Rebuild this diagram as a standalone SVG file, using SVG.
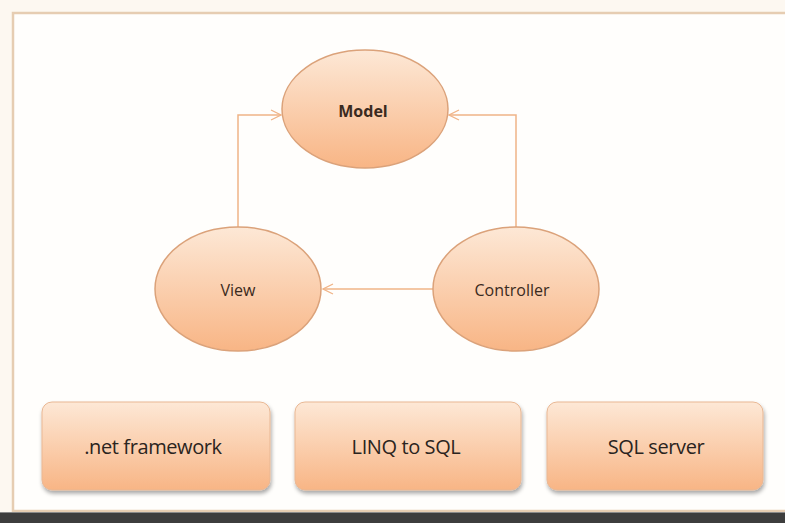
<svg xmlns="http://www.w3.org/2000/svg" width="785" height="523" viewBox="0 0 785 523">
<defs>
<linearGradient id="g" x1="0" y1="0" x2="0" y2="1">
<stop offset="0" stop-color="#fde8d6"/>
<stop offset="1" stop-color="#f8b585"/>
</linearGradient>
<filter id="sh" x="-10%" y="-10%" width="125%" height="130%">
<feGaussianBlur in="SourceAlpha" stdDeviation="2"/>
<feOffset dx="1" dy="3"/>
<feComponentTransfer><feFuncA type="linear" slope="0.35"/></feComponentTransfer>
<feMerge><feMergeNode/><feMergeNode in="SourceGraphic"/></feMerge>
</filter>
<marker id="arr" markerWidth="12" markerHeight="12" refX="11" refY="6" orient="auto" markerUnits="userSpaceOnUse">
<path d="M1,1 L11,6 L1,11" fill="none" stroke="#f0b487" stroke-width="1.3"/>
</marker>
<style>
.ell{fill:url(#g);stroke:#dba27a;stroke-width:1.5}
.box{fill:url(#g);stroke:#e9b793;stroke-width:1}
.con{fill:none;stroke:#f0b487;stroke-width:1.5}
.lbl{font-family:"Open Sans","Liberation Sans",sans-serif;font-size:16px;fill:#3a2a20;text-anchor:middle;dominant-baseline:central}
.blbl{font-family:"Open Sans","Liberation Sans",sans-serif;font-size:20px;fill:#2a2420;text-anchor:middle;dominant-baseline:central;letter-spacing:-0.4px}
</style>
</defs>
<rect x="0" y="0" width="785" height="523" fill="#fdf8f1"/>
<rect x="13" y="13" width="790" height="498" fill="#fffefc" stroke="#e6cdb2" stroke-width="2.5"/>
<rect x="0" y="512" width="785" height="11" fill="#3d3d3d"/>
<line x1="0" y1="512.5" x2="785" y2="512.5" stroke="#8a8a8a" stroke-width="1"/>
<g id="connectors">
<polyline class="con" points="238,228 238,115 281,115" marker-end="url(#arr)"/>
<polyline class="con" points="516,228 516,115 449,115" marker-end="url(#arr)"/>
<line class="con" x1="433" y1="289" x2="323" y2="289" marker-end="url(#arr)"/>
</g>
<g id="model">
<ellipse class="ell" cx="365" cy="109" rx="83" ry="59"/>
<text class="lbl" x="363" y="111" font-weight="bold">Model</text>
</g>
<g id="view">
<ellipse class="ell" cx="238" cy="289" rx="83" ry="62"/>
<text class="lbl" x="238" y="290">View</text>
</g>
<g id="controller">
<ellipse class="ell" cx="516" cy="289" rx="83" ry="62"/>
<text class="lbl" x="512" y="290">Controller</text>
</g>
<g id="net-framework">
<rect class="box" x="42" y="402" width="228" height="88" rx="10" filter="url(#sh)"/>
<text class="blbl" x="153" y="446">.net framework</text>
</g>
<g id="linq-to-sql">
<rect class="box" x="295" y="402" width="226" height="88" rx="10" filter="url(#sh)"/>
<text class="blbl" x="406" y="446">LINQ to SQL</text>
</g>
<g id="sql-server">
<rect class="box" x="547" y="402" width="216" height="88" rx="10" filter="url(#sh)"/>
<text class="blbl" x="656" y="446">SQL server</text>
</g>
</svg>
